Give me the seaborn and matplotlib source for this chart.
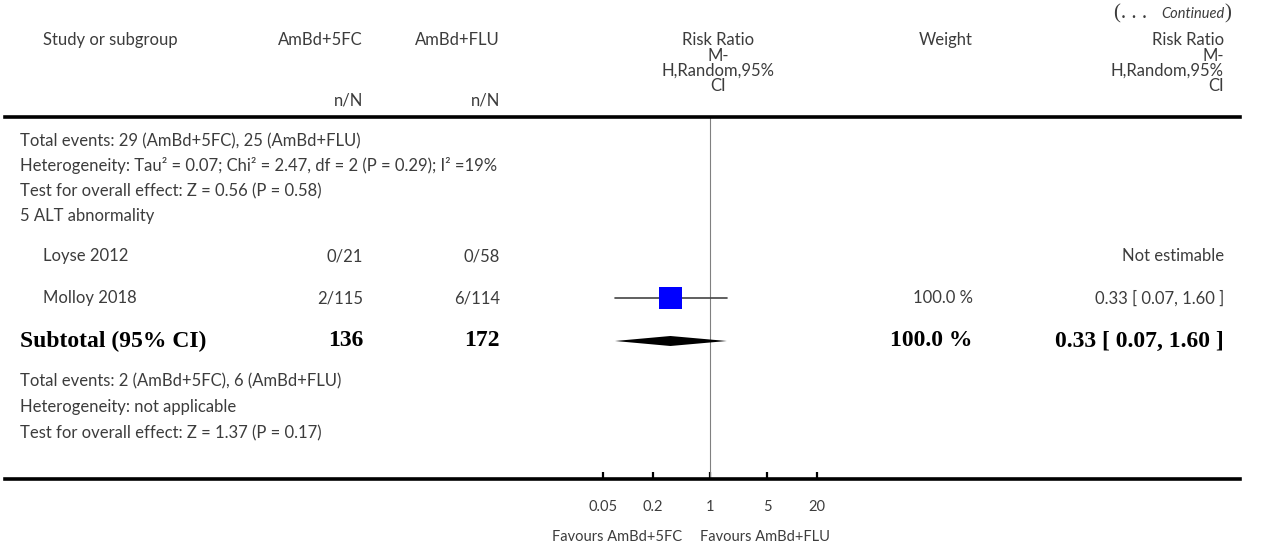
import numpy as np
import matplotlib
matplotlib.use("Agg")
import matplotlib.pyplot as plt
import seaborn as sns
import pandas as pd

# data
studies = ["Loyse 2012", "Molloy 2018"]
events_5fc = ["0/21", "2/115"]
events_flu = ["0/58", "6/114"]
rr_est = [np.nan, 0.33]
rr_low = [np.nan, 0.07]
rr_high = [np.nan, 1.60]
weights = [np.nan, 100.0]

sub_n_5fc = 136
sub_n_flu = 172
sub_est = 0.33
sub_low = 0.07
sub_high = 1.60
sub_weight = 100.0

notes_before = ["Total events: 29 (AmBd+5FC), 25 (AmBd+FLU)",
                "Heterogeneity: Tau\u00b2 = 0.07; Chi\u00b2 = 2.47, df = 2 (P = 0.29); I\u00b2 =19%",
                "Test for overall effect: Z = 0.56 (P = 0.58)",
                "5 ALT abnormality"]
notes_after = ["Total events: 2 (AmBd+5FC), 6 (AmBd+FLU)",
               "Heterogeneity: not applicable",
               "Test for overall effect: Z = 1.37 (P = 0.17)"]

ticks = [0.05, 0.2, 1, 5, 20]
tick_labels = ["0.05", "0.2", "1", "5", "20"]
favours = ["Favours AmBd+5FC", "Favours AmBd+FLU"]

sns.set_theme(style="white")
plt.rcParams['font.family'] = ['Lato', 'DejaVu Sans']

W, H = 1268, 550
fig = plt.figure(figsize=(W / 100, H / 100), dpi=100)

# table layer in pixel units
tab = fig.add_axes([0, 0, 1, 1])
tab.set_xlim(0, W)
tab.set_ylim(H, 0)
tab.axis("off")

grey = "#3c3c3c"
fs = 12
light = dict(fontsize=fs, color=grey, fontweight="normal", va="center")
bold = dict(fontsize=17, color="black", fontweight="bold", va="center",
            family=["Liberation Serif", "DejaVu Serif"])

# column anchors (layout)
x_left, x_indent = 20, 43
x_5fc, x_flu = 363, 500
x_plot = 710
x_weight = 973
x_rr = 1224

# continued marker
tab.text(x_rr + 7, 14, ")", fontsize=15, color=grey, ha="right", va="center",
         family=["Liberation Serif"])
tab.text(x_rr + 1, 14, "Continued", fontsize=10.5, color=grey, ha="right", va="center",
         style="italic")
tab.text(x_rr - 77, 14, "(. . .", fontsize=15, color=grey, ha="right", va="center",
         family=["Liberation Serif"])

# headers
tab.text(x_indent, 40, "Study or subgroup", ha="left", **light)
tab.text(x_5fc, 40, "AmBd+5FC", ha="right", **light)
tab.text(x_flu, 40, "AmBd+FLU", ha="right", **light)
tab.text(x_5fc, 100, "n/N", ha="right", **light)
tab.text(x_flu, 100, "n/N", ha="right", **light)
for y, s in zip([40, 56, 71, 86], ["Risk Ratio", "M-", "H,Random,95%", "CI"]):
    tab.text(x_plot + 8, y, s, ha="center", **light)
    tab.text(x_rr, y, s, ha="right", **light)
tab.text(x_weight, 40, "Weight", ha="right", **light)

# row layout
y_notes_before = [141, 166, 191, 216]
y_studies = [256, 298]
y_sub = 341
y_notes_after = [381, 407, 433]

for y, s in zip(y_notes_before, notes_before):
    tab.text(x_left, y, s, ha="left", **light)

for i, name in enumerate(studies):
    y = y_studies[i]
    tab.text(x_indent, y, name, ha="left", **light)
    tab.text(x_5fc, y, events_5fc[i], ha="right", **light)
    tab.text(x_flu, y, events_flu[i], ha="right", **light)
    if np.isnan(rr_est[i]):
        tab.text(x_rr, y, "Not estimable", ha="right", **light)
    else:
        tab.text(x_weight, y, f"{weights[i]:.1f} %", ha="right", **light)
        tab.text(x_rr, y, f"{rr_est[i]:.2f} [ {rr_low[i]:.2f}, {rr_high[i]:.2f} ]",
                 ha="right", **light)

tab.text(x_left, y_sub, "Subtotal (95% CI)", ha="left", **bold)
tab.text(x_5fc, y_sub, str(sub_n_5fc), ha="right", **bold)
tab.text(x_flu, y_sub, str(sub_n_flu), ha="right", **bold)
tab.text(x_weight, y_sub, f"{sub_weight:.1f} %", ha="right", **bold)
tab.text(x_rr, y_sub, f"{sub_est:.2f} [ {sub_low:.2f}, {sub_high:.2f} ]", ha="right", **bold)

for y, s in zip(y_notes_after, notes_after):
    tab.text(x_left, y, s, ha="left", **light)

# forest plot axes: spans the table rules, log scale centred on 1 at x_plot
ppd = 82.24  # pixels per decade
rule_l, rule_r, rule_top, rule_bot = 5, 1240, 117, 479
ax = fig.add_axes([rule_l / W, (H - rule_bot) / H, (rule_r - rule_l) / W, (rule_bot - rule_top) / H])
ax.patch.set_alpha(0)
ax.set_xscale("log")
ax.set_xlim(10 ** ((rule_l - x_plot) / ppd), 10 ** ((rule_r - x_plot) / ppd))
ax.set_ylim(rule_bot, rule_top)

ax.axvline(1, color="#808080", lw=0.8, zorder=1)

df = pd.DataFrame({"y": y_studies, "est": rr_est, "lo": rr_low, "hi": rr_high,
                   "w": weights}).dropna()
for _, r in df.iterrows():
    ax.plot([r.lo, r.hi], [r.y, r.y], color="#444444", lw=1.2, zorder=2)
sns.scatterplot(data=df, x="est", y="y", marker="s", s=16 ** 2 * df["w"] / 100,
                color="#0000ff", edgecolor="none", ax=ax, zorder=3, legend=False)

dh = 5
ax.fill([sub_low, sub_est, sub_high, sub_est], [y_sub, y_sub - dh, y_sub, y_sub + dh],
        color="black", lw=0, zorder=3)

for side in ["left", "right"]:
    ax.spines[side].set_visible(False)
for side in ["top", "bottom"]:
    ax.spines[side].set_linewidth(2.6)
    ax.spines[side].set_color("black")
ax.set_yticks([])
ax.xaxis.set_ticks_position("bottom")
ax.set_xticks(ticks)
ax.set_xticklabels(tick_labels)
ax.minorticks_off()
ax.tick_params(axis="x", direction="in", length=5, width=1.6, color="black",
               pad=15, labelsize=10.5, labelcolor=grey)
ax.set_xlabel("")
ax.set_ylabel("")

tab.text(617, 537, favours[0], ha="center", fontsize=10.5, color=grey, va="center")
tab.text(765, 537, favours[1], ha="center", fontsize=10.5, color=grey, va="center")

fig.savefig("out.png", dpi=100)
